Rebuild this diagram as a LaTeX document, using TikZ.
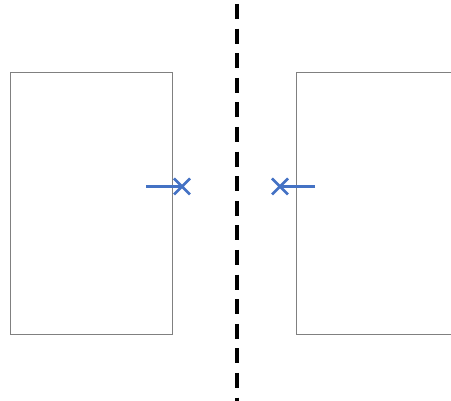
\documentclass[tikz,border=0pt]{standalone}
\usetikzlibrary{calc}
\begin{document}
\begin{tikzpicture}[x=1pt,y=-1pt,
  box/.style={draw=boxgray,line width=1.2pt,minimum width=162pt,minimum height=262pt,inner sep=0pt,anchor=north west},
  port/.style={draw=portblue,line width=2.8pt},
  divider/.style={draw=black,line width=3.8pt,dash pattern=on 15pt off 9.6pt}]
\definecolor{boxgray}{RGB}{128,128,128}
\definecolor{portblue}{RGB}{68,114,196}
\useasboundingbox (0,0) rectangle (451,401);
\begin{scope}
\clip (0,0) rectangle (451,401);
\node[box] (L) at (10,72) {};
\node[box] (R) at (296,72) {};
\coordinate (top) at (237,4);
\coordinate (bot) at (237,401);
\draw[divider] (top) -- (bot);
% left port
\coordinate (la) at (146,186.5);
\coordinate (lx) at (182,186.5);
\draw[port] (la) -- (lx);
\draw[port] ($(lx)+(-8,-8)$) -- ($(lx)+(8,8)$) ($(lx)+(-8,8)$) -- ($(lx)+(8,-8)$);
% right port
\coordinate (ra) at (315,186.5);
\coordinate (rx) at (280,186.5);
\draw[port] (ra) -- (rx);
\draw[port] ($(rx)+(-8,-8)$) -- ($(rx)+(8,8)$) ($(rx)+(-8,8)$) -- ($(rx)+(8,-8)$);
\end{scope}
\end{tikzpicture}
\end{document}
